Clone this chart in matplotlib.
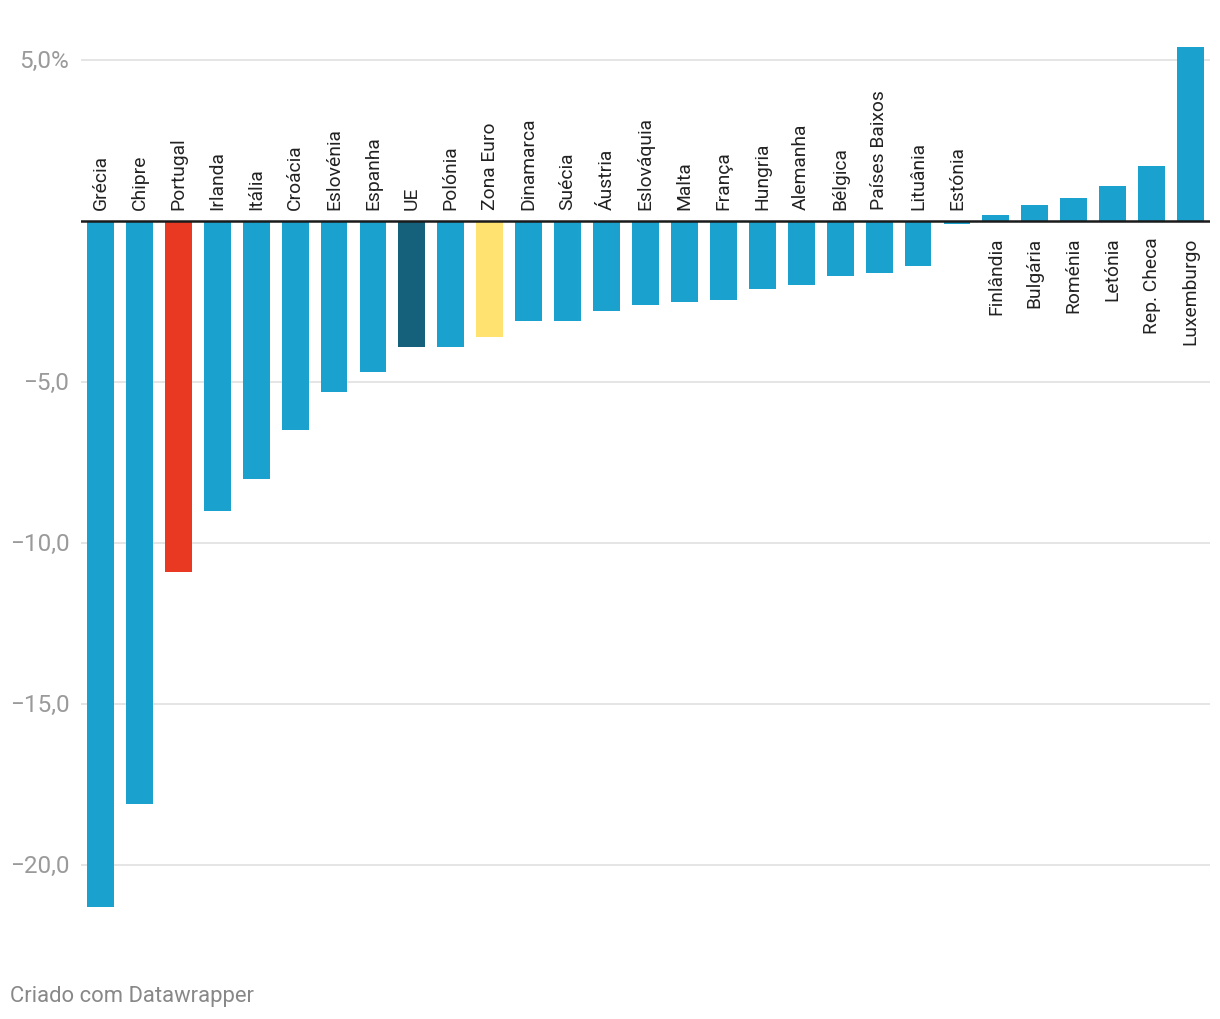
import matplotlib.pyplot as plt
import numpy as np

countries = ['Grécia', 'Chipre', 'Portugal', 'Irlanda', 'Itália', 'Croácia', 'Eslovénia',
             'Espanha', 'UE', 'Polónia', 'Zona Euro', 'Dinamarca', 'Suécia', 'Áustria',
             'Eslováquia', 'Malta', 'França', 'Hungria', 'Alemanha', 'Bélgica',
             'Países Baixos', 'Lituânia', 'Estónia', 'Finlândia', 'Bulgária', 'Roménia',
             'Letónia', 'Rep. Checa', 'Luxemburgo']
values = [-21.3, -18.1, -10.9, -9.0, -8.0, -6.5, -5.3, -4.7, -3.9, -3.9, -3.6, -3.1, -3.1,
          -2.8, -2.6, -2.5, -2.45, -2.1, -2.0, -1.7, -1.6, -1.4, -0.1, 0.2, 0.5, 0.7, 1.1,
          1.7, 5.4]
yticks = [5, 0, -5, -10, -15, -20]
yticklabels = ['5,0%', '', '\u22125,0', '\u221210,0', '\u221215,0', '\u221220,0']

blue = '#1aa1cd'
special = {'Portugal': '#ea3922', 'UE': '#15607a', 'Zona Euro': '#ffe270'}
colors = [special.get(c, blue) for c in countries]

plt.rcParams['font.family'] = ['Roboto', 'DejaVu Sans']

fig = plt.figure(figsize=(12.2, 10.2), dpi=100)
# axes from x=81..1210 px, y=33..933 px
ax = fig.add_axes([81 / 1220, 1 - 933 / 1020, (1210 - 81) / 1220, 900 / 1020])

x = np.arange(len(countries))
ax.bar(x, values, width=0.69, color=colors, zorder=3)
ax.set_xlim(-0.5, len(countries) - 0.5)
ax.set_ylim(-(933 - 222) / 32.2, (222 - 33) / 32.2)

for yt in yticks:
    if yt != 0:
        ax.axhline(yt, color='#e3e3e3', lw=1.3, zorder=1)
ax.axhline(0, color='#1a1a1a', lw=1.8, zorder=4)

for i, (c, v) in enumerate(zip(countries, values)):
    if v < 0:
        ax.text(i, 0.36, c, rotation=90, ha='center', va='bottom', fontsize=13.9, color='#222222')
    else:
        ax.text(i, -0.48, c, rotation=90, ha='center', va='top', fontsize=13.9, color='#222222')

ax.set_xticks([])
ax.set_yticks([])
for s in ax.spines.values():
    s.set_visible(False)

for yt, lab in zip(yticks, yticklabels):
    if lab:
        ax.text(-0.8, yt, lab, ha='right', va='center', fontsize=17.5, color='#9a9a9a')

fig.text(10 / 1220, 1 - 997 / 1020, 'Criado com Datawrapper', ha='left', va='center',
         fontsize=15.8, color='#888888')

plt.savefig('out.png', dpi=100)
